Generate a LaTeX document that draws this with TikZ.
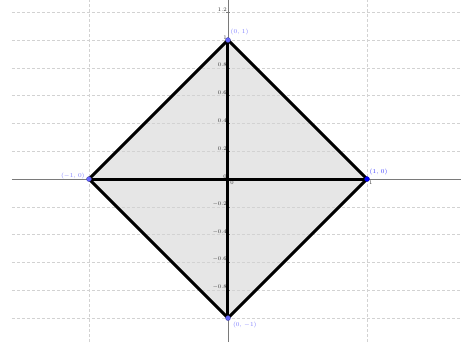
\documentclass[tikz,border=0pt]{standalone}
\usetikzlibrary{positioning}
\definecolor{GridGray}{HTML}{D2D2D2}
\definecolor{AxisGray}{HTML}{7A7A7A}
\definecolor{ShapeFill}{HTML}{E6E6E6}
\definecolor{PtBlue}{HTML}{6666FF}
\definecolor{PtLabel}{HTML}{8080FF}
\definecolor{PtDeep}{HTML}{0000FF}

\begin{document}
\begin{tikzpicture}[x=139pt,y=139pt,
  gridline/.style={GridGray,line width=0.6pt,dash pattern=on 3pt off 2pt},
  axisline/.style={AxisGray,line width=0.8pt},
  ticklab/.style={font=\fontsize{5.5}{6}\selectfont,text=black!80,inner sep=0.6pt},
  ptlab/.style={font=\fontsize{6}{6}\selectfont,text=PtLabel,inner sep=0pt},
  vertex/.style={circle,fill=PtBlue,draw=PtBlue!60!black,line width=0.3pt,inner sep=0pt,minimum size=5pt},
  edge/.style={line width=3pt}]
\useasboundingbox[fill=white] (-1.640,-1.173) rectangle (1.676,1.288);
\coordinate (N) at (0,1);
\coordinate (E) at (1,0);
\coordinate (S) at (0,-1);
\coordinate (W) at (-1,0);
\fill[ShapeFill] (N) -- (E) -- (S) -- (W) -- cycle;
% grid
\foreach \y in {-1,-0.8,-0.6,-0.4,-0.2,0.2,0.4,0.6,0.8,1,1.2} {\draw[gridline] (-1.554,\y) -- (1.676,\y);}
\foreach \x in {-1,1} {\draw[gridline] (\x,-1.173) -- (\x,1.288);}
% axes
\draw[axisline] (-1.554,0) -- (1.676,0);
\draw[axisline] (0,-1.173) -- (0,1.288);
\foreach \y/\s in {1.2/1.2,1/1,0.8/0.8,0.6/0.6,0.4/0.4,0.2/0.2,-0.2/$-$0.2,-0.4/$-$0.4,-0.6/$-$0.6,-0.8/$-$0.8} {\draw[axisline,line width=0.5pt] (-0.014,\y) -- (0.014,\y); \node[ticklab,anchor=south east] at (-0.004,\y) {\s};}
\draw[axisline,line width=0.5pt] (1,-0.014) -- (1,0.014);
\node[ticklab,anchor=north west] at (1.01,-0.006) {1};
\node[ticklab,anchor=south east] at (-0.004,0) {0};
\node[ticklab,anchor=north west] at (0.012,-0.006) {0};
% diamond
\draw[edge] (N) -- (E) -- (S) -- (W) -- cycle;
\draw[edge] (W) -- (E);
\draw[edge] (N) -- (S);
% points
\node[vertex] (pN) at (N) {};
\node[vertex,fill=PtDeep,draw=PtDeep!70!black] (pE) at (E) {};
\node[vertex] (pS) at (S) {};
\node[vertex] (pW) at (W) {};
\node[ptlab,anchor=west] (lN) at (0.018,1.055) {(0, 1)};
\node[ptlab,anchor=west,text=PtDeep!75!white] (lE) at (1.018,0.052) {(1, 0)};
\node[ptlab,anchor=west] (lS) at (0.035,-1.050) {(0, $-$1)};
\node[ptlab,anchor=east] (lW) at (-1.03,0.025) {($-$1, 0)};
\end{tikzpicture}
\end{document}
